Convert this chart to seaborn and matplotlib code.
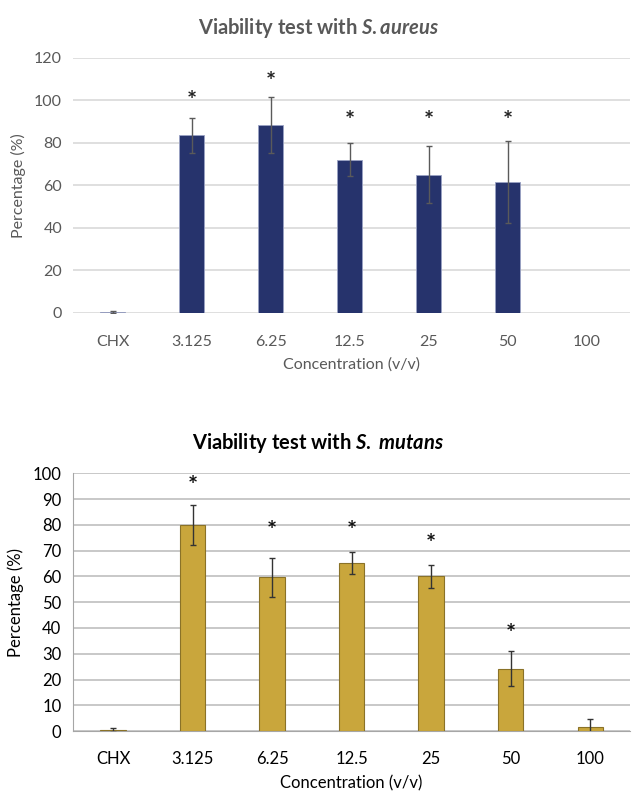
import numpy as np
import pandas as pd
import seaborn as sns
import matplotlib
matplotlib.use("Agg")
import matplotlib.pyplot as plt

# data
concentrations = ["CHX", "3.125", "6.25", "12.5", "25", "50", "100"]

aureus_mean = [0.5, 83.5, 88.2, 72.0, 64.8, 61.5, np.nan]
aureus_err = [0.5, 8.2, 13.1, 7.8, 13.4, 19.5, np.nan]
aureus_star = [None, 99.5, 108.5, 90.0, 90.0, 90.0, None]

mutans_mean = [0.5, 80.0, 59.7, 65.2, 60.0, 24.3, 1.7]
mutans_err = [0.9, 7.7, 7.5, 4.3, 4.4, 6.6, 3.2]
mutans_star = [None, 95.0, 77.5, 77.5, 72.3, 37.3, None]

sns.set_style("white")
plt.rcParams['font.family'] = ['Lato', 'DejaVu Sans']
plt.rcParams['mathtext.fontset'] = 'custom'
plt.rcParams['mathtext.it'] = 'Lato:italic:bold'
plt.rcParams['mathtext.rm'] = 'Lato:bold'
plt.rcParams['mathtext.bf'] = 'Lato:bold'

fig = plt.figure(figsize=(6.37, 8), dpi=100)

# top: S. aureus
ax1 = fig.add_axes([0.115, 0.609, 0.874, 0.319])
df1 = pd.DataFrame({"conc": concentrations, "val": aureus_mean})
sns.barplot(data=df1, x="conc", y="val", order=concentrations, color="#26336c", width=0.32,
            saturation=1, edgecolor="#9aa2c4", linewidth=0.6, ax=ax1, zorder=3)
ax1.errorbar(range(len(concentrations)), aureus_mean, yerr=aureus_err, fmt="none",
             ecolor="#5a5a5a", elinewidth=1, capsize=2.5, capthick=1, zorder=4)
for i, s in enumerate(aureus_star):
    if s is not None:
        ax1.text(i, s, "*", ha="center", va="center", fontsize=17, fontweight="bold", color="#222222")
ax1.set_ylim(0, 120)
ax1.set_xlim(-0.5, 6.55)
ax1.set_yticks(range(0, 121, 20))
ax1.yaxis.grid(True, color="#d9d9d9", linewidth=1.2, zorder=0)
ax1.set_axisbelow(True)
for sp in ax1.spines.values():
    sp.set_visible(False)
ax1.tick_params(axis="x", length=0, labelsize=11.5, colors="#595959", pad=16)
ax1.tick_params(axis="y", length=0, labelsize=11.5, colors="#595959", pad=8)
ax1.set_xlabel("Concentration (v/v)", fontsize=11.5, color="#595959", labelpad=6)
ax1.set_ylabel("Percentage (%)", fontsize=11.5, color="#595959", labelpad=6)
fig.text(0.5, 0.965, "Viability test with $S.aureus$", fontsize=14.5, fontweight="bold",
         color="#595959", ha="center", va="center")

# bottom: S. mutans
ax2 = fig.add_axes([0.115, 0.086, 0.874, 0.3225])
df2 = pd.DataFrame({"conc": concentrations, "val": mutans_mean})
sns.barplot(data=df2, x="conc", y="val", order=concentrations, color="#c9a63c", width=0.32,
            saturation=1, edgecolor="#8a7228", linewidth=0.8, ax=ax2, zorder=3)
ax2.errorbar(range(len(concentrations)), mutans_mean, yerr=mutans_err, fmt="none",
             ecolor="#333333", elinewidth=1, capsize=2.5, capthick=1, zorder=4)
for i, s in enumerate(mutans_star):
    if s is not None:
        ax2.text(i, s, "*", ha="center", va="center", fontsize=17, fontweight="bold", color="#111111")
ax2.set_ylim(0, 100)
ax2.set_xlim(-0.5, 6.5)
ax2.set_yticks(range(0, 101, 10))
ax2.yaxis.grid(True, color="#bfbfbf", linewidth=1.2, zorder=0)
ax2.set_axisbelow(True)
for sp in ["top", "right"]:
    ax2.spines[sp].set_visible(False)
ax2.spines["left"].set_color("#a6a6a6")
ax2.spines["bottom"].set_color("#a6a6a6")
ax2.set_xticks(np.arange(-0.5, 7, 1), minor=True)
ax2.tick_params(axis="x", which="minor", length=5, color="#a6a6a6", direction="out")
ax2.tick_params(axis="x", which="major", length=0, labelsize=12, colors="black", pad=14)
ax2.tick_params(axis="y", length=5, color="#a6a6a6", labelsize=12, colors="black")
ax2.set_xlabel("Concentration (v/v)", fontsize=12, color="black", labelpad=6)
ax2.set_ylabel("Percentage (%)", fontsize=12, color="black", labelpad=6)
fig.text(0.5, 0.446, "Viability test with $S.$ $mutans$", fontsize=14.5, fontweight="bold",
         color="black", ha="center", va="center")

fig.savefig("out.png", dpi=100)
